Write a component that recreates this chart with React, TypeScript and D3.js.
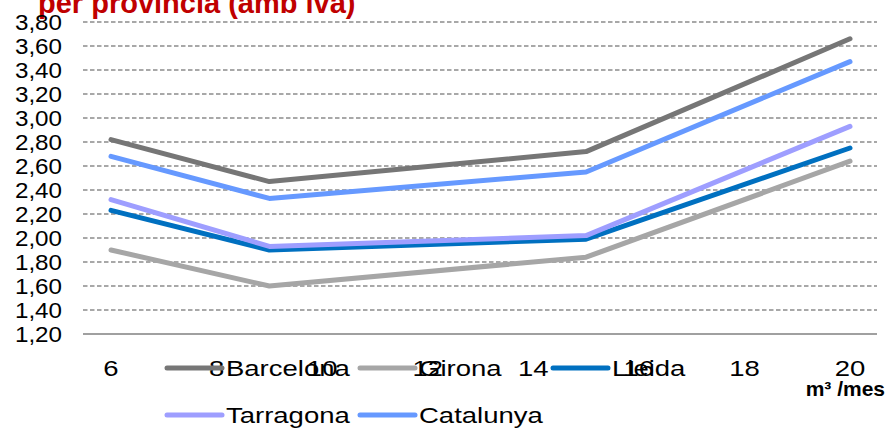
import React from "react";
import * as d3 from "d3";

const consumption = [6, 9, 15, 20];
const seriesNames = ["Barcelona", "Girona", "Lleida", "Tarragona", "Catalunya"];
const barcelona = [2.82, 2.47, 2.72, 3.66];
const girona = [1.9, 1.6, 1.84, 2.64];
const lleida = [2.23, 1.9, 1.99, 2.75];
const tarragona = [2.32, 1.93, 2.02, 2.93];
const catalunya = [2.68, 2.33, 2.55, 3.47];
const seriesColors = ["#767676", "#A6A6A6", "#0070C0", "#9E9EFF", "#6699FF"];
const xTicks = [6, 8, 10, 12, 14, 16, 18, 20];
const yTicks = [1.2, 1.4, 1.6, 1.8, 2.0, 2.2, 2.4, 2.6, 2.8, 3.0, 3.2, 3.4, 3.6, 3.8];
const titleText = "per provincia (amb iva)";
const unitText = "m³ /mes";

const W = 887;
const H = 430;
const FONT = "'Liberation Sans', Arial, sans-serif";

export default function App() {
  const x = d3.scaleLinear().domain([6, 20]).range([111, 850]);
  const y = d3.scaleLinear().domain([1.2, 3.8]).range([334, 22]);
  const allSeries = [barcelona, girona, lleida, tarragona, catalunya];
  const line = d3
    .line<number>()
    .x((_, i) => x(consumption[i]))
    .y((d) => y(d));
  const gridX0 = 83;
  const gridX1 = 877;
  const sx = 1.25;

  const legendPos = [
    { x: 167, y: 368 },
    { x: 360, y: 368 },
    { x: 553, y: 368 },
    { x: 167, y: 415 },
    { x: 360, y: 415 },
  ];

  return (
    <svg
      width={W}
      height={H}
      style={{ position: "absolute", left: 0, top: 0, background: "#fff" }}
      fontFamily={FONT}
    >
      <text
        transform={`translate(38,13) scale(1.0,1)`}
        fontSize={29}
        fontWeight="bold"
        fill="#C00000"
      >
        {titleText}
      </text>
      {yTicks.map((t, i) => (
        <g key={"g" + i}>
          {i === 0 ? (
            <line x1={gridX0} x2={gridX1} y1={y(t)} y2={y(t)} stroke="#808080" strokeWidth={1.5} />
          ) : (
            <line
              x1={gridX0}
              x2={gridX1}
              y1={y(t)}
              y2={y(t)}
              stroke="#8c8c8c"
              strokeWidth={1.3}
              strokeDasharray="4.5,2.5"
            />
          )}
          <text
            transform={`translate(62,${y(t)}) scale(1.1,1)`}
            dy="0.36em"
            textAnchor="end"
            fontSize={22}
            fill="#000"
          >
            {d3.format(".2f")(t).replace(".", ",")}
          </text>
        </g>
      ))}
      {allSeries.map((s, i) => (
        <path
          key={"s" + i}
          d={line(s) || ""}
          fill="none"
          stroke={seriesColors[i]}
          strokeWidth={5}
          strokeLinecap="round"
          strokeLinejoin="round"
        />
      ))}
      {xTicks.map((t, i) => (
        <text
          key={"x" + i}
          transform={`translate(${x(t)},376) scale(${sx},1)`}
          textAnchor="middle"
          fontSize={22}
          fill="#000"
        >
          {t}
        </text>
      ))}
      {seriesNames.map((n, i) => (
        <g key={"l" + i}>
          <line
            x1={legendPos[i].x}
            x2={legendPos[i].x + 55}
            y1={legendPos[i].y}
            y2={legendPos[i].y}
            stroke={seriesColors[i]}
            strokeWidth={5}
            strokeLinecap="round"
          />
          <text
            transform={`translate(${legendPos[i].x + 59},${legendPos[i].y}) scale(${sx},1)`}
            dy="0.36em"
            fontSize={22}
            fill="#000"
          >
            {n}
          </text>
        </g>
      ))}
      <text x={885} y={396} textAnchor="end" fontSize={21} fontWeight="bold" fill="#000">
        {unitText}
      </text>
    </svg>
  );
}
